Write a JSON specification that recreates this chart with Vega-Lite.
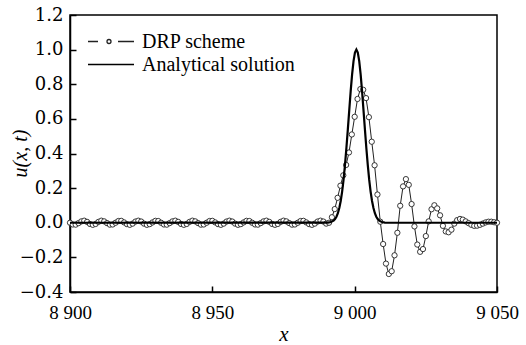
{
  "$schema": "https://vega.github.io/schema/vega-lite/v6.json",
  "width": 427,
  "height": 277,
  "autosize": "none",
  "padding": {"left": 70, "top": 15, "right": 29, "bottom": 53},
  "background": "white",
  "config": {
    "view": {"stroke": "black", "strokeWidth": 1.5}
  },
  "datasets": {
    "drp": [
      {"x": 8900, "u": 0}, {"x": 8901, "u": -0.010}, {"x": 8902, "u": -0.011}, {"x": 8903, "u": -0.002},
      {"x": 8904, "u": 0.008}, {"x": 8905, "u": 0.012}, {"x": 8906, "u": 0.005}, {"x": 8907, "u": -0.007},
      {"x": 8908, "u": -0.012}, {"x": 8909, "u": -0.007}, {"x": 8910, "u": 0.005}, {"x": 8911, "u": 0.012},
      {"x": 8912, "u": 0.008}, {"x": 8913, "u": -0.002}, {"x": 8914, "u": -0.011}, {"x": 8915, "u": -0.010},
      {"x": 8916, "u": 0}, {"x": 8917, "u": 0.010}, {"x": 8918, "u": 0.011}, {"x": 8919, "u": 0.002},
      {"x": 8920, "u": -0.008}, {"x": 8921, "u": -0.012}, {"x": 8922, "u": -0.005}, {"x": 8923, "u": 0.007},
      {"x": 8924, "u": 0.012}, {"x": 8925, "u": 0.007}, {"x": 8926, "u": -0.005}, {"x": 8927, "u": -0.012},
      {"x": 8928, "u": -0.008}, {"x": 8929, "u": 0.002}, {"x": 8930, "u": 0.011}, {"x": 8931, "u": 0.010},
      {"x": 8932, "u": 0}, {"x": 8933, "u": -0.010}, {"x": 8934, "u": -0.011}, {"x": 8935, "u": -0.002},
      {"x": 8936, "u": 0.008}, {"x": 8937, "u": 0.012}, {"x": 8938, "u": 0.005}, {"x": 8939, "u": -0.007},
      {"x": 8940, "u": -0.012}, {"x": 8941, "u": -0.007}, {"x": 8942, "u": 0.005}, {"x": 8943, "u": 0.012},
      {"x": 8944, "u": 0.008}, {"x": 8945, "u": -0.002}, {"x": 8946, "u": -0.011}, {"x": 8947, "u": -0.010},
      {"x": 8948, "u": 0}, {"x": 8949, "u": 0.010}, {"x": 8950, "u": 0.011}, {"x": 8951, "u": 0.002},
      {"x": 8952, "u": -0.008}, {"x": 8953, "u": -0.012}, {"x": 8954, "u": -0.005}, {"x": 8955, "u": 0.007},
      {"x": 8956, "u": 0.012}, {"x": 8957, "u": 0.007}, {"x": 8958, "u": -0.005}, {"x": 8959, "u": -0.012},
      {"x": 8960, "u": -0.008}, {"x": 8961, "u": 0.002}, {"x": 8962, "u": 0.011}, {"x": 8963, "u": 0.010},
      {"x": 8964, "u": 0}, {"x": 8965, "u": -0.010}, {"x": 8966, "u": -0.011}, {"x": 8967, "u": -0.002},
      {"x": 8968, "u": 0.008}, {"x": 8969, "u": 0.012}, {"x": 8970, "u": 0.005}, {"x": 8971, "u": -0.007},
      {"x": 8972, "u": -0.012}, {"x": 8973, "u": -0.007}, {"x": 8974, "u": 0.005}, {"x": 8975, "u": 0.012},
      {"x": 8976, "u": 0.008}, {"x": 8977, "u": -0.002}, {"x": 8978, "u": -0.011}, {"x": 8979, "u": -0.010},
      {"x": 8980, "u": 0}, {"x": 8981, "u": 0.010}, {"x": 8982, "u": 0.011}, {"x": 8983, "u": 0.002},
      {"x": 8984, "u": -0.008}, {"x": 8985, "u": -0.012}, {"x": 8986, "u": -0.005}, {"x": 8987, "u": 0.007},
      {"x": 8988, "u": 0.012}, {"x": 8989, "u": 0.007}, {"x": 8990, "u": -0.005}, {"x": 8991, "u": 0.0},
      {"x": 8992, "u": 0.032}, {"x": 8993, "u": 0.079}, {"x": 8994, "u": 0.144}, {"x": 8995, "u": 0.214},
      {"x": 8996, "u": 0.274}, {"x": 8997, "u": 0.334}, {"x": 8998, "u": 0.406}, {"x": 8999, "u": 0.51},
      {"x": 9000, "u": 0.612}, {"x": 9001, "u": 0.715}, {"x": 9002, "u": 0.772}, {"x": 9003, "u": 0.768},
      {"x": 9004, "u": 0.72}, {"x": 9005, "u": 0.61}, {"x": 9006, "u": 0.468}, {"x": 9007, "u": 0.332},
      {"x": 9008, "u": 0.163}, {"x": 9009, "u": 0.006}, {"x": 9010, "u": -0.123}, {"x": 9011, "u": -0.236},
      {"x": 9012, "u": -0.296}, {"x": 9013, "u": -0.28}, {"x": 9014, "u": -0.188}, {"x": 9015, "u": -0.058},
      {"x": 9016, "u": 0.098}, {"x": 9017, "u": 0.21}, {"x": 9018, "u": 0.252}, {"x": 9019, "u": 0.219},
      {"x": 9020, "u": 0.108}, {"x": 9021, "u": -0.021}, {"x": 9022, "u": -0.126}, {"x": 9023, "u": -0.168},
      {"x": 9024, "u": -0.152}, {"x": 9025, "u": -0.077}, {"x": 9026, "u": 0.008}, {"x": 9027, "u": 0.078},
      {"x": 9028, "u": 0.101}, {"x": 9029, "u": 0.083}, {"x": 9030, "u": 0.043}, {"x": 9031, "u": -0.018},
      {"x": 9032, "u": -0.05}, {"x": 9033, "u": -0.055}, {"x": 9034, "u": -0.04}, {"x": 9035, "u": -0.005},
      {"x": 9036, "u": 0.015}, {"x": 9037, "u": 0.022}, {"x": 9038, "u": 0.018}, {"x": 9039, "u": 0.008},
      {"x": 9040, "u": -0.002}, {"x": 9041, "u": -0.012}, {"x": 9042, "u": -0.018}, {"x": 9043, "u": -0.017},
      {"x": 9044, "u": -0.012}, {"x": 9045, "u": -0.005}, {"x": 9046, "u": 0.002}, {"x": 9047, "u": 0.006},
      {"x": 9048, "u": 0.006}, {"x": 9049, "u": 0.003}, {"x": 9050, "u": 0.0}
    ],
    "exact": [
      {"x": 8900, "u": 0}, {"x": 8990.6, "u": 0.001}, {"x": 8991.6, "u": 0.004}, {"x": 8992.6, "u": 0.012},
      {"x": 8993.1, "u": 0.021}, {"x": 8993.6, "u": 0.035}, {"x": 8994.1, "u": 0.055}, {"x": 8994.6, "u": 0.085},
      {"x": 8995.1, "u": 0.126}, {"x": 8995.6, "u": 0.18}, {"x": 8996.1, "u": 0.249}, {"x": 8996.6, "u": 0.334},
      {"x": 8997.1, "u": 0.432}, {"x": 8997.6, "u": 0.539}, {"x": 8998.1, "u": 0.651}, {"x": 8998.6, "u": 0.76},
      {"x": 8999.1, "u": 0.857}, {"x": 8999.6, "u": 0.934}, {"x": 9000.1, "u": 0.983}, {"x": 9000.6, "u": 1.0},
      {"x": 9001.1, "u": 0.983}, {"x": 9001.6, "u": 0.934}, {"x": 9002.1, "u": 0.857}, {"x": 9002.6, "u": 0.76},
      {"x": 9003.1, "u": 0.651}, {"x": 9003.6, "u": 0.539}, {"x": 9004.1, "u": 0.432}, {"x": 9004.6, "u": 0.334},
      {"x": 9005.1, "u": 0.249}, {"x": 9005.6, "u": 0.18}, {"x": 9006.1, "u": 0.126}, {"x": 9006.6, "u": 0.085},
      {"x": 9007.1, "u": 0.055}, {"x": 9007.6, "u": 0.035}, {"x": 9008.1, "u": 0.021}, {"x": 9008.6, "u": 0.012},
      {"x": 9009.6, "u": 0.004}, {"x": 9010.6, "u": 0.001}, {"x": 9050, "u": 0}
    ]
  },
  "encoding": {
    "x": {
      "field": "x", "type": "quantitative",
      "scale": {"domain": [8900, 9050], "nice": false, "zero": false},
      "axis": {
        "title": "x", "titleFont": "serif", "titleFontStyle": "italic", "titleFontWeight": "normal",
        "titleFontSize": 21, "titleColor": "black", "titleY": 48, "titleBaseline": "alphabetic",
        "values": [8900, 8950, 9000, 9050],
        "labelExpr": "replace(format(datum.value, ','), ',', ' ')",
        "labelFont": "Liberation Serif", "labelFontSize": 19, "labelColor": "black",
        "labelFlush": false, "labelOverlap": false,
        "tickSize": -6, "labelPadding": 17, "tickColor": "black", "tickWidth": 1.5,
        "domainColor": "black", "domainWidth": 1.5, "grid": false
      }
    },
    "y": {
      "field": "u", "type": "quantitative",
      "scale": {"domain": [-0.4, 1.2], "nice": false, "zero": false},
      "axis": {
        "title": "u(x, t)", "titleFont": "serif", "titleFontStyle": "italic", "titleFontWeight": "normal",
        "titleFontSize": 20, "titleColor": "black", "titleX": -44, "titleY": 138, "titleAngle": -90,
        "titleAlign": "center", "titleBaseline": "alphabetic",
        "values": [-0.4, -0.2, 0, 0.2, 0.4, 0.6, 0.8, 1, 1.2], "format": ".1f",
        "labelFont": "DejaVu Serif", "labelFontSize": 18, "labelColor": "black",
        "labelFlush": false, "labelOverlap": false,
        "tickSize": -6, "labelPadding": 13, "tickColor": "black", "tickWidth": 1.5,
        "domainColor": "black", "domainWidth": 1.5, "grid": false
      }
    }
  },
  "layer": [
    {
      "data": {"name": "drp"},
      "mark": {"type": "line", "strokeWidth": 1},
      "encoding": {
        "color": {
          "datum": "DRP scheme",
          "scale": {"domain": ["DRP scheme", "Analytical solution"], "range": ["#222222", "#000000"]},
          "legend": {
            "title": null, "orient": "none", "legendX": 17, "legendY": 14,
            "symbolSize": 529, "symbolStrokeWidth": 1.3, "symbolFillColor": "white",
            "labelFont": "Times New Roman", "labelFontSize": 20, "labelColor": "black",
            "labelOffset": 30, "labelLimit": 0, "rowPadding": -2, "padding": 0,
            "encode": {
              "symbols": {
                "update": {
                  "shape": {"signal": "datum.value === 'DRP scheme' ? 'M-1,0L-0.13,0M1.61,0L3,0M1,0A0.174,0.174,0,1,1,0.652,0A0.174,0.174,0,1,1,1,0Z' : 'M-1,0L3,0'"}
                }
              }
            }
          }
        }
      }
    },
    {
      "data": {"name": "drp"},
      "mark": {"type": "point", "shape": "circle", "filled": true, "fill": "white", "stroke": "#222222", "strokeWidth": 0.9, "size": 28, "opacity": 1}
    },
    {
      "data": {"name": "exact"},
      "mark": {"type": "line", "strokeWidth": 2.2},
      "encoding": {"color": {"datum": "Analytical solution"}}
    }
  ]
}
